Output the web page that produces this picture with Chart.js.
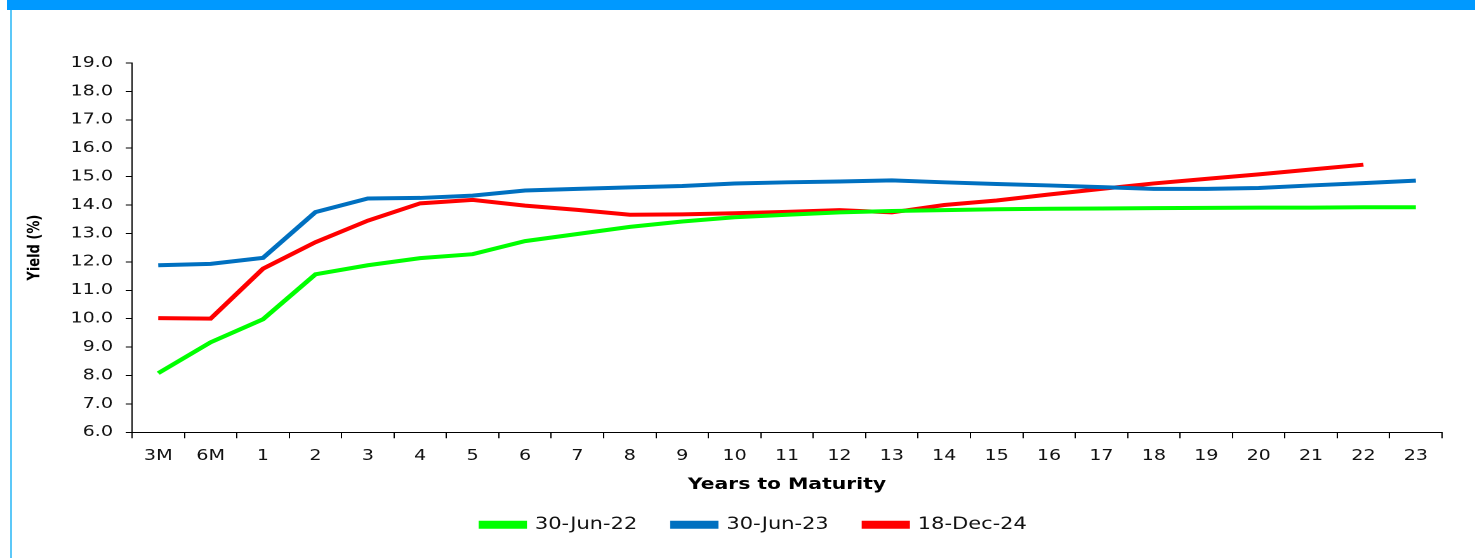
<!DOCTYPE html>
<html>
<head>
<meta charset="utf-8">
<script src="https://cdn.jsdelivr.net/npm/chart.js@4"></script>
<style>
    html, body { margin: 0; padding: 0; background: #fff; overflow: hidden; }
    #frame_top { position: absolute; left: 7px; top: 0; width: 1468px; height: 10px; background: #0099ff; }
    #frame_left { position: absolute; left: 10px; top: 10px; width: 2px; height: 548px; background: #5cc8f8; }
    /* the reference is a horizontally stretched picture, so the chart is drawn narrower and stretched */
    #ga_wrap { position: absolute; left: 0; top: 0; width: 1162px; height: 558px;
               transform: scaleX(1.2694); transform-origin: 0 0; }
</style>
</head>
<body>
<div id="ga_wrap"><canvas id="ga_yield_chart"></canvas></div>
<div id="frame_top"></div>
<div id="frame_left"></div>
<script>
    const maturities = ['3M', '6M', '1', '2', '3', '4', '5', '6', '7', '8', '9', '10', '11', '12',
                        '13', '14', '15', '16', '17', '18', '19', '20', '21', '22', '23'];

    const yield_jun22 = [8.08, 9.17, 9.98, 11.56, 11.88, 12.13, 12.27, 12.73, 12.98, 13.23, 13.42, 13.57, 13.66,
                         13.74, 13.79, 13.82, 13.85, 13.87, 13.88, 13.89, 13.90, 13.91, 13.91, 13.92, 13.92];
    const yield_jun23 = [11.88, 11.93, 12.14, 13.75, 14.23, 14.25, 14.33, 14.51, 14.57, 14.62, 14.67, 14.76, 14.80,
                         14.83, 14.87, 14.80, 14.74, 14.69, 14.63, 14.57, 14.57, 14.60, 14.69, 14.77, 14.86];
    const yield_dec24 = [10.02, 10.00, 11.76, 12.69, 13.45, 14.06, 14.18, 13.98, 13.83, 13.66, 13.67, 13.71, 13.76,
                         13.82, 13.74, 14.00, 14.16, 14.37, 14.57, 14.76, 14.92, 15.08, 15.25, 15.42, null];

    const series_names = ['30-Jun-22', '30-Jun-23', '18-Dec-24'];
    const series_colors = ['#00ff00', '#0070c0', '#ff0000'];

    const y_min = 6;
    const y_max = 19;

    const font_family = '"DejaVu Sans", Verdana, sans-serif';

    function makeDataset(i, values) {
        return {
            label: series_names[i],
            data: values,
            borderColor: series_colors[i],
            backgroundColor: series_colors[i],
            borderWidth: 4,
            pointRadius: 0,
            pointHoverRadius: 0,
            tension: 0,
            spanGaps: false,
        };
    }

    // the legend in the reference sits a little right of the canvas centre
    const legendNudge = {
        id: 'legendNudge',
        afterLayout(chart) {
            if (chart.legend) {
                chart.legend.left += 18;
                chart.legend.right += 18;
            }
        },
    };

    let chartCanvas = document.getElementById('ga_yield_chart').getContext('2d');
    let chartObject = new Chart(chartCanvas, {
        type: 'line',
        data: {
            labels: maturities,
            datasets: [
                makeDataset(0, yield_jun22),
                makeDataset(1, yield_jun23),
                makeDataset(2, yield_dec24),
            ],
        },
        plugins: [legendNudge],
        options: {
            responsive: true,
            maintainAspectRatio: false,
            animation: false,
            devicePixelRatio: 2,
            layout: {
                padding: { top: 63, right: 26, bottom: 15, left: 16 },
            },
            plugins: {
                tooltip: { enabled: false },
                legend: {
                    position: 'bottom',
                    labels: {
                        boxWidth: 34,
                        boxHeight: 4,
                        padding: 28,
                        color: '#111',
                        font: { family: font_family, size: 16.5 },
                    },
                },
            },
            scales: {
                x: {
                    offset: true,
                    grid: {
                        offset: true,
                        drawOnChartArea: false,
                        drawTicks: true,
                        tickLength: 6,
                        color: '#000',
                    },
                    border: { color: '#000', width: 1 },
                    ticks: {
                        color: '#111',
                        padding: 9,
                        maxRotation: 0,
                        autoSkip: false,
                        font: { family: font_family, size: 15 },
                    },
                    title: {
                        display: true,
                        text: 'Years to Maturity',
                        color: '#000',
                        padding: { top: 1, bottom: -6 },
                        font: { family: font_family, size: 16, weight: 'bold' },
                    },
                },
                y: {
                    min: y_min,
                    max: y_max,
                    grid: {
                        drawOnChartArea: false,
                        drawTicks: true,
                        tickLength: 5,
                        color: '#000',
                    },
                    border: { color: '#000', width: 1 },
                    ticks: {
                        stepSize: 1,
                        color: '#111',
                        padding: 10,
                        font: { family: font_family, size: 15 },
                        callback: function(tick) {
                            return Number(tick).toFixed(1);
                        },
                    },
                    title: {
                        display: true,
                        text: 'Yield (%)',
                        color: '#000',
                        padding: { top: 4, bottom: 10 },
                        font: { family: font_family, size: 13, weight: 'bold' },
                    },
                },
            },
        },
    });
</script>
</body>
</html>
